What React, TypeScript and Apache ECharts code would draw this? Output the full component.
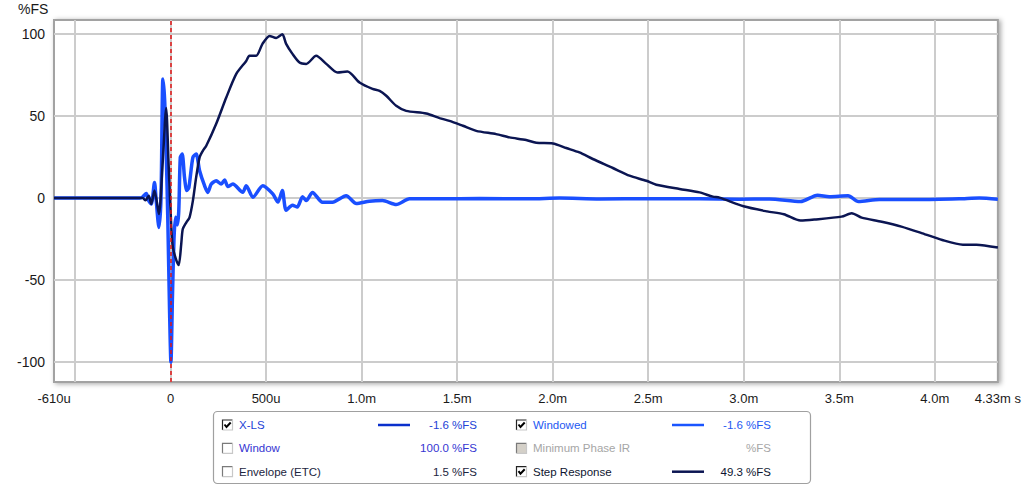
import React, { useEffect, useRef } from "react";
import * as echarts from "echarts";

// ---- data (time in ms, value in %FS) ----
const windowedT = [-0.61, -0.162, -0.147, -0.127, -0.115, -0.101, -0.084, -0.075, -0.061, -0.05, -0.04, -0.031, -0.023, -0.014, -0.005, 0.002, 0.01, 0.018, 0.026, 0.035, 0.043, 0.051, 0.061, 0.073, 0.085, 0.096, 0.117, 0.134, 0.152, 0.178, 0.195, 0.213, 0.239, 0.265, 0.283, 0.3, 0.326, 0.378, 0.396, 0.431, 0.483, 0.535, 0.562, 0.585, 0.605, 0.638, 0.663, 0.691, 0.71, 0.743, 0.795, 0.848, 0.919, 0.972, 1.041, 1.109, 1.181, 1.251, 1.408, 1.617, 1.879, 2.036, 2.245, 2.507, 2.768, 2.977, 3.134, 3.297, 3.386, 3.448, 3.546, 3.6, 3.71, 3.919, 4.128, 4.233, 4.33];
const windowedV = [0, 0, 0.5, 2.8, -1.6, -3.7, 9.5, -1.6, -18, 0, 72.6, 60, 30, -15, -70, -100.4, -60, -25, -11.8, -16.4, -8, 24.8, 26.8, 12.6, 4.5, 6.5, 24.8, 26.8, 16.6, 7.5, 3.4, 8.5, 10.5, 8.5, 11, 7, 8.5, 3.5, 7.5, 0.5, 7.5, 2.5, -2.5, 4.5, -7.5, -4.5, -5.5, 0.8, -1.6, 3.4, -2.6, -2.6, 1.4, -3.4, -2, -1.6, -4, -0.5, -0.5, -0.3, -0.5, 0, -0.6, -0.4, -0.5, -0.8, -0.6, -2.2, 1.7, 0.8, 1.3, -2.2, -1, -1, -0.5, 0, -0.8];

const stepT = [-0.61, -0.147, -0.131, -0.114, -0.101, -0.084, -0.061, -0.042, -0.023, -0.01, 0.004, 0.012, 0.03, 0.043, 0.056, 0.064, 0.082, 0.099, 0.117, 0.134, 0.152, 0.169, 0.187, 0.239, 0.291, 0.344, 0.396, 0.413, 0.448, 0.481, 0.518, 0.553, 0.585, 0.605, 0.638, 0.675, 0.71, 0.762, 0.815, 0.874, 0.926, 0.989, 1.057, 1.094, 1.129, 1.181, 1.233, 1.338, 1.408, 1.46, 1.53, 1.6, 1.704, 1.774, 1.861, 1.914, 2.001, 2.071, 2.14, 2.21, 2.315, 2.402, 2.49, 2.542, 2.664, 2.769, 2.838, 2.873, 2.999, 3.122, 3.21, 3.297, 3.37, 3.512, 3.565, 3.617, 3.722, 3.825, 3.935, 4.039, 4.147, 4.218, 4.33];
const stepV = [0, 0, -1.4, 1.4, -3.7, 4.5, -9.8, 20, 55, 20, -18, -30, -38, -41, -28, -19, -15, -12, -1.6, 12.6, 24.8, 28.8, 31.9, 45.3, 61.2, 75.8, 83.7, 86.8, 86.8, 94.1, 99, 97.7, 100, 94.1, 88, 82.7, 81.9, 86.8, 81.9, 76.6, 77.2, 70.5, 66.6, 65.4, 62.4, 56.3, 53.2, 51.6, 48.8, 47.1, 44.1, 41, 39, 37, 35.4, 33.7, 33.3, 30.5, 27.8, 23.8, 18.3, 13.6, 10.5, 8.1, 5.5, 3.4, 0.8, 0.2, -5.1, -8.2, -9.9, -13.8, -13.2, -11.4, -9.3, -12, -14.5, -17.5, -21.6, -25.7, -28.5, -28.5, -30.3];

const xTickValues = [-0.61, 0, 0.5, 1.0, 1.5, 2.0, 2.5, 3.0, 3.5, 4.0, 4.33];
const xTickLabels = ["-610u", "0", "500u", "1.0m", "1.5m", "2.0m", "2.5m", "3.0m", "3.5m", "4.0m", "4.33m s"];
const xGridValues = [-0.5, 0, 0.5, 1.0, 1.5, 2.0, 2.5, 3.0, 3.5, 4.0];
const yTickValues = [-100, -50, 0, 50, 100];
const yTickLabels = ["-100", "-50", "0", "50", "100"];
const xMin = -0.61;
const xMax = 4.33;
const yMin = -112.4;
const yMax = 108.7;
const markerTime = 0;

// legend entries: [name, value, checked state]
const legendCol1Names = ["X-LS", "Window", "Envelope (ETC)"];
const legendCol1Values = ["-1.6 %FS", "100.0 %FS", "1.5 %FS"];
const legendCol1Checked = ["on", "off", "off"];
const legendCol2Names = ["Windowed", "Minimum Phase IR", "Step Response"];
const legendCol2Values = ["-1.6 %FS", "%FS", "49.3 %FS"];
const legendCol2Checked = ["on", "disabled", "on"];

const FONT = "'Liberation Sans', Arial, sans-serif";

const col1TextColors = ["#2342d6", "#3535d2", "#1c2540"];
const col2TextColors = ["#2458f2", "#a6a6a6", "#0e1530"];
const col1LineColors = ["#0a30cc", null, null];
const col2LineColors = ["#1a55ff", null, "#0b1552"];

function checkbox(x: number, y: number, state: string) {
  const children: any[] = [
    {
      type: "rect",
      shape: { x, y, width: 10, height: 10 },
      style: { fill: state === "disabled" ? "#d4d0c8" : "#ffffff", stroke: null },
    },
    {
      type: "polyline",
      shape: { points: [[x, y + 10], [x, y], [x + 10, y]] },
      style: { stroke: state === "on" ? "#222222" : "#7a7a7a", lineWidth: 1.2, fill: null },
    },
    {
      type: "polyline",
      shape: { points: [[x + 10, y], [x + 10, y + 10], [x, y + 10]] },
      style: { stroke: "#c8c8c8", lineWidth: 1.2, fill: null },
    },
  ];
  if (state === "on") {
    children.push({
      type: "polyline",
      shape: { points: [[x + 2, y + 4.5], [x + 4, y + 7], [x + 8.2, y + 2.5]] },
      style: { stroke: "#000000", lineWidth: 2, fill: null },
    });
  }
  return children;
}

function buildLegend() {
  const els: any[] = [
    {
      type: "rect",
      shape: { x: 213.5, y: 411.5, width: 597, height: 72, r: 4 },
      style: { fill: "#ffffff", stroke: "#a0a0a0", lineWidth: 1.2 },
      z: 10,
    },
  ];
  const rowsY = [425, 448.3, 471.7];
  for (let i = 0; i < 3; i++) {
    const cy = rowsY[i];
    // column 1
    els.push(...checkbox(222.5, cy - 5, legendCol1Checked[i]).map((e) => ({ ...e, z: 11 })));
    els.push({
      type: "text", z: 11,
      style: { x: 239, y: cy, text: legendCol1Names[i], fill: col1TextColors[i], font: `11.5px ${FONT}`, verticalAlign: "middle", align: "left" },
    });
    if (col1LineColors[i]) {
      els.push({ type: "line", z: 11, shape: { x1: 378, y1: cy, x2: 410, y2: cy }, style: { stroke: col1LineColors[i], lineWidth: 2.5 } });
    }
    els.push({
      type: "text", z: 11,
      style: { x: 477, y: cy, text: legendCol1Values[i], fill: col1TextColors[i], font: `11.5px ${FONT}`, verticalAlign: "middle", align: "right" },
    });
    // column 2
    els.push(...checkbox(516.5, cy - 5, legendCol2Checked[i]).map((e) => ({ ...e, z: 11 })));
    els.push({
      type: "text", z: 11,
      style: { x: 533, y: cy, text: legendCol2Names[i], fill: col2TextColors[i], font: `11.5px ${FONT}`, verticalAlign: "middle", align: "left" },
    });
    if (col2LineColors[i]) {
      els.push({ type: "line", z: 11, shape: { x1: 672, y1: cy, x2: 704, y2: cy }, style: { stroke: col2LineColors[i], lineWidth: 2.5 } });
    }
    els.push({
      type: "text", z: 11,
      style: { x: 771, y: cy, text: legendCol2Values[i], fill: col2TextColors[i], font: `11.5px ${FONT}`, verticalAlign: "middle", align: "right" },
    });
  }
  return els;
}

export default function App() {
  const ref = useRef<HTMLDivElement>(null);
  useEffect(() => {
    if (!ref.current) return;
    const chart = echarts.init(ref.current, undefined, { renderer: "svg" });
    const xLabelMap: Record<string, string> = {};
    xTickValues.forEach((v, i) => (xLabelMap[String(v)] = xTickLabels[i]));
    const yLabelMap: Record<string, string> = {};
    yTickValues.forEach((v, i) => (yLabelMap[String(v)] = yTickLabels[i]));

    chart.setOption({
      animation: false,
      backgroundColor: "#ffffff",
      grid: {
        show: true,
        left: 54,
        right: 26,
        top: 20,
        bottom: 103,
        backgroundColor: "#ffffff",
        borderColor: "#a2a2a2",
        borderWidth: 2,
        shadowBlur: 5,
        shadowColor: "rgba(0,0,0,0.35)",
        shadowOffsetX: 2,
        shadowOffsetY: 1,
      },
      xAxis: {
        type: "value",
        min: xMin,
        max: xMax,
        axisLine: { show: false },
        axisTick: { show: false, customValues: xGridValues },
        splitLine: { show: true, lineStyle: { color: "#cccccc", width: 2 } },
        axisLabel: {
          customValues: xTickValues,
          formatter: (v: number) => xLabelMap[String(v)] ?? "",
          color: "#1a1a1a",
          fontSize: 13,
          fontFamily: FONT,
          margin: 10,
          showMinLabel: true,
          showMaxLabel: true,
        },
      },
      yAxis: {
        type: "value",
        min: yMin,
        max: yMax,
        axisLine: { show: false },
        axisTick: { show: false, customValues: yTickValues },
        splitLine: { show: true, lineStyle: { color: "#cccccc", width: 2 } },
        axisLabel: {
          customValues: yTickValues,
          formatter: (v: number) => yLabelMap[String(v)] ?? "",
          color: "#1a1a1a",
          fontSize: 14,
          fontFamily: FONT,
          margin: 9,
        },
      },
      graphic: [
        {
          type: "text",
          left: 18,
          top: 2,
          style: { text: "%FS", fill: "#1a1a1a", font: `14px ${FONT}` },
        },
        ...buildLegend(),
      ],
      series: [
        {
          name: "Windowed",
          type: "line",
          data: windowedT.map((t, i) => [t, windowedV[i]]),
          showSymbol: false,
          smooth: 0.25,
          lineStyle: { color: "#1a4fff", width: 3.5 },
          z: 2,
        },
        {
          name: "Step Response",
          type: "line",
          data: stepT.map((t, i) => [t, stepV[i]]),
          showSymbol: false,
          smooth: 0.25,
          lineStyle: { color: "#0b1552", width: 2.5 },
          z: 3,
          markLine: {
            silent: true,
            symbol: ["none", "none"],
            label: { show: false },
            lineStyle: { color: "#e01515", type: [4, 3], width: 1.5 },
            data: [{ xAxis: markerTime }],
          },
        },
      ],
    });
    return () => chart.dispose();
  }, []);
  return <div ref={ref} style={{ position: "fixed", left: 0, top: 0, width: 1024, height: 485 }} />;
}
